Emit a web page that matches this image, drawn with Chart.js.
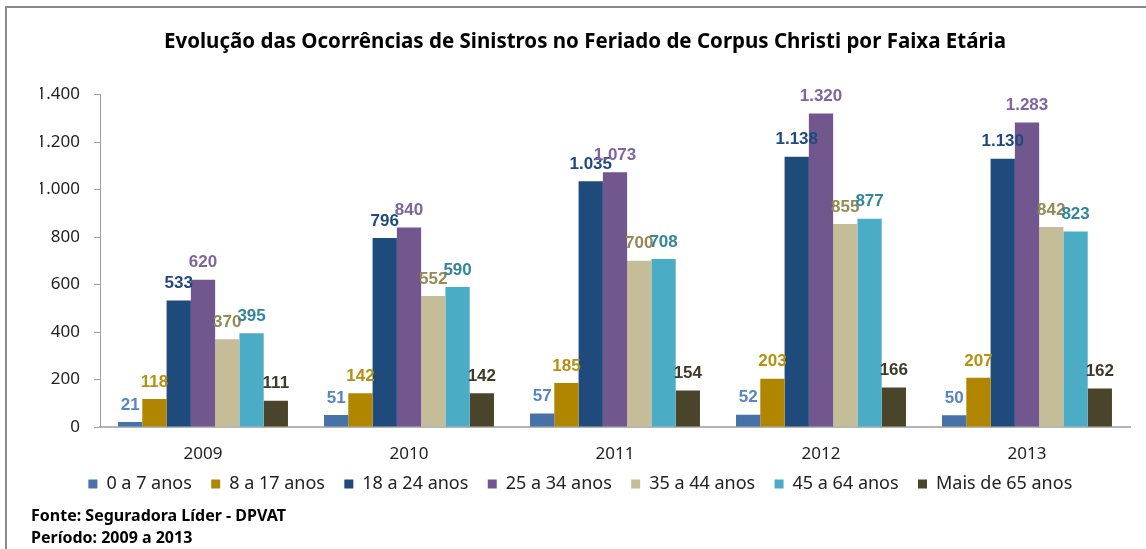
<!DOCTYPE html>
<html>
<head>
<meta charset="utf-8">
<script src="https://cdn.jsdelivr.net/npm/chart.js@4.4.1/dist/chart.umd.min.js"></script>
<style>
    body { margin: 0; background: #fff; }
    #wrap { position: relative; width: 1146px; height: 549px; overflow: hidden; }
    #frame {
        position: absolute; left: 5px; top: 6px; width: 1200px; height: 600px;
        border-left: 2px solid #8a8a8a; border-top: 2px solid #8a8a8a;
    }
    #fonte {
        position: absolute; left: 31px; top: 504px;
        font: bold 16px "Noto Sans", sans-serif; line-height: 22px; color: #000;
    }
    canvas { position: absolute; left: 0; top: 0; }
</style>
</head>
<body>
<div id="wrap">
    <div id="frame"></div>
    <canvas id="myChart" width="1146" height="549"></canvas>
    <div id="fonte">Fonte: Seguradora Líder - DPVAT<br>Período: 2009 a 2013</div>
</div>
<script>
const anos = ['2009', '2010', '2011', '2012', '2013']
const faixas = ['0 a 7 anos', '8 a 17 anos', '18 a 24 anos', '25 a 34 anos', '35 a 44 anos', '45 a 64 anos', 'Mais de 65 anos']

const dados0a7 = [21, 51, 57, 52, 50]
const dados8a17 = [118, 142, 185, 203, 207]
const dados18a24 = [533, 796, 1035, 1138, 1130]
const dados25a34 = [620, 840, 1073, 1320, 1283]
const dados35a44 = [370, 552, 700, 855, 842]
const dados45a64 = [395, 590, 708, 877, 823]
const dadosMais65 = [111, 142, 154, 166, 162]

const yTicks = [0, 200, 400, 600, 800, 1000, 1200, 1400]

const series = [dados0a7, dados8a17, dados18a24, dados25a34, dados35a44, dados45a64, dadosMais65]
const barColors = ['#4672a8', '#b08600', '#1f4a7c', '#71578e', '#c4bd97', '#4bacc6', '#4a452a']
const labelColors = ['#5685c2', '#b8900e', '#1f497d', '#8064a2', '#948a54', '#31859c', '#403b27']

// 1.035 style (ponto como separador de milhar)
const fmt = (n) => String(n).replace(/\B(?=(\d{3})+(?!\d))/g, '.')

const valueLabels = {
    id: 'valueLabels',
    afterDatasetsDraw(chart) {
        const ctx = chart.ctx
        ctx.save()
        ctx.font = 'bold 17px "Liberation Sans", Arial, sans-serif'
        ctx.textAlign = 'center'
        ctx.textBaseline = 'middle'
        chart.data.datasets.forEach((ds, i) => {
            chart.getDatasetMeta(i).data.forEach((bar, j) => {
                ctx.fillStyle = labelColors[i]
                ctx.fillText(fmt(ds.data[j]), bar.x, bar.y - 17)
            })
        })
        ctx.restore()
    }
}

const ctx = document.getElementById('myChart').getContext('2d')
const myChart = new Chart(ctx, {
    type: 'bar',
    data: {
        labels: anos,
        datasets: faixas.map((f, i) => ({
            label: f,
            data: series[i],
            backgroundColor: barColors[i],
            borderWidth: 0,
            barPercentage: 1,
            categoryPercentage: 0.825
        }))
    },
    options: {
        responsive: false,
        animation: false,
        layout: { padding: { left: 40, right: 16, top: 0, bottom: 46 } },
        scales: {
            x: {
                grid: { display: false, drawTicks: false },
                border: { display: true, color: '#b5b5b5', width: 2 },
                ticks: { color: '#222', padding: 17, font: { family: '"Noto Sans", sans-serif', size: 17 } },
                afterFit: (axis) => { axis.height = 38 }
            },
            y: {
                min: 0,
                max: 1400,
                afterBuildTicks: (axis) => { axis.ticks = yTicks.map(v => ({ value: v })) },
                grid: { drawOnChartArea: false, drawTicks: true, tickLength: 6, color: '#a0a0a0' },
                border: { display: true, color: '#a0a0a0', width: 1 },
                ticks: {
                    color: '#222',
                    padding: 14,
                    font: { family: '"Noto Sans", sans-serif', size: 17 },
                    callback: (v) => fmt(v)
                },
                afterFit: (axis) => { axis.width = 60 }
            }
        },
        plugins: {
            title: {
                display: true,
                text: 'Evolução das Ocorrências de Sinistros no Feriado de Corpus Christi por Faixa Etária',
                color: '#000',
                font: { family: '"Noto Sans", sans-serif', size: 20.5, weight: 'bold' },
                padding: { top: 30, bottom: 40 }
            },
            legend: {
                position: 'bottom',
                labels: {
                    boxWidth: 9,
                    boxHeight: 9,
                    padding: 10,
                    color: '#222',
                    font: { family: '"Noto Sans", sans-serif', size: 18 },
                    generateLabels: (chart) => Chart.defaults.plugins.legend.labels.generateLabels(chart)
                        .map(item => ({ ...item, text: item.text + '  ' }))
                }
            },
            tooltip: { enabled: false }
        }
    },
    plugins: [valueLabels]
})
</script>
</body>
</html>
